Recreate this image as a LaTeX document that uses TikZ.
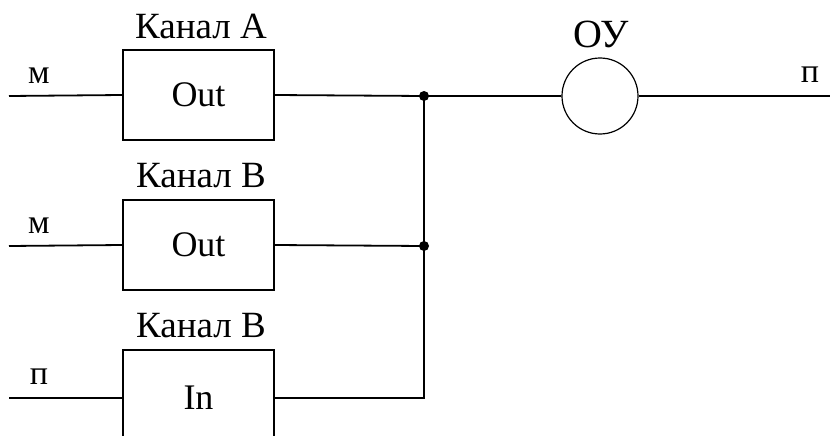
\documentclass[tikz,border=0pt]{standalone}
\usepackage{fontspec}
\setmainfont{Liberation Serif}
\begin{document}
\begin{tikzpicture}[x=1pt,y=-1pt,
  wire/.style={line width=1.8pt},
  block/.style={draw,line width=1.2pt,minimum width=151pt,minimum height=90pt,inner sep=0pt,font=\fontsize{36}{40}\selectfont},
  caption/.style={font=\fontsize{37}{42}\selectfont,inner sep=0pt},
  sig/.style={font=\fontsize{34}{38}\selectfont,inner sep=0pt},
  joint/.style={circle,fill,inner sep=0pt,minimum size=10pt}]
\useasboundingbox (0,0) rectangle (830,436);
\clip (0,0) rectangle (830,436);

% channel blocks
\node[block] (ba) at (198.5,95) {Out};
\node[block] (bb) at (198.5,245) {Out};
\node[block,minimum height=96pt] (bc) at (198.5,398) {In};

\node[caption] (ca) at (201,26) {Канал А};
\node[caption] (cb) at (201,176) {Канал В};
\node[caption] (cc) at (201,326) {Канал В};

% control object
\node[draw,circle,line width=1.2pt,minimum size=76pt,inner sep=0pt] (ou) at (600,96) {};
\node[caption,font=\fontsize{40}{44}\selectfont] (oul) at (601,34) {ОУ};

% wire ends and junctions
\coordinate (ia) at (9,96);
\coordinate (ib) at (9,246);
\coordinate (ic) at (9,398);
\coordinate (out) at (830,96);
\coordinate (j1) at (424,96);
\coordinate (j2) at (424,246);
\coordinate (j3) at (424,398);

\node[sig] (la) at (39,75.5) {м};
\node[sig] (lb) at (39,225.5) {м};
\node[sig] (lc) at (39,377) {п};
\node[sig] (lo) at (810,75) {п};

\draw[wire] (ia) -- (ba.west);
\draw[wire] (ib) -- (bb.west);
\draw[wire] (ic) -- (ic -| bc.west);
\draw[wire] (ba.east) -- (j1) -- (ou.west);
\draw[wire] (ou.east) -- (out);
\draw[wire] (bb.east) -- (j2);
\draw[wire] (j3 -| bc.east) -- (j3) -- (j1);

\node[joint] (d1) at (j1) {};
\node[joint] (d2) at (j2) {};
\end{tikzpicture}
\end{document}
